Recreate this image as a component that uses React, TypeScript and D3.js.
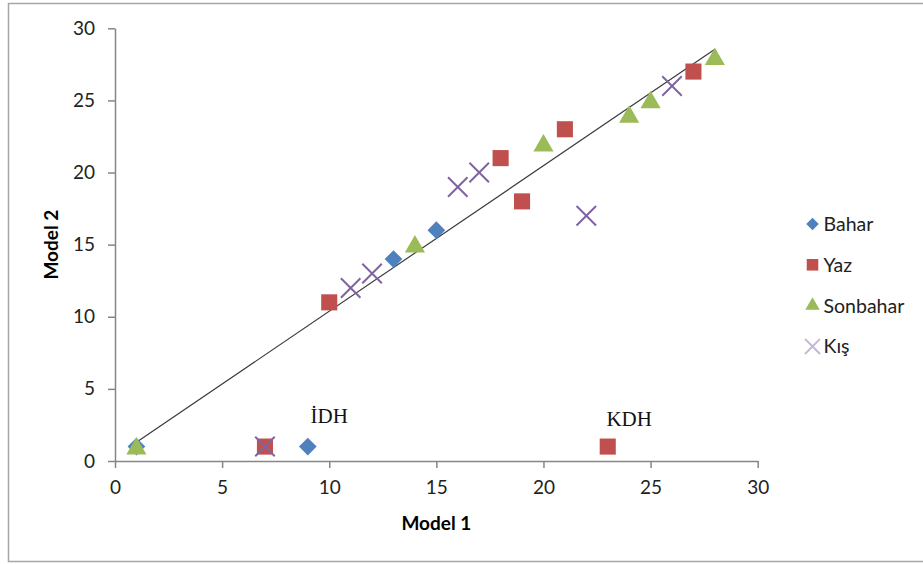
import { useRef, useEffect } from 'react';
import * as d3 from 'd3';

type Pt = [number, number];

// Model 1 / Model 2 pairs per season
const bahar: Pt[] = [[1, 1], [9, 1], [13, 14], [15, 16]];
const yaz: Pt[] = [[7, 1], [10, 11], [18, 21], [19, 18], [21, 23], [23, 1], [27, 27]];
const sonbahar: Pt[] = [[1, 1], [14, 15], [20, 22], [24, 24], [25, 25], [28, 28]];
const kis: Pt[] = [[7, 1], [11, 12], [12, 13], [16, 19], [17, 20], [22, 17], [26, 26]];

// trend line end points
const trend: Pt[] = [[1, 1.3], [28, 28.55]];

const seriesNames = ['Bahar', 'Yaz', 'Sonbahar', 'Kış'];
const ticks = [0, 5, 10, 15, 20, 25, 30];

const notes = [
  { label: 'İDH', x: 10, y: 2.6 },
  { label: 'KDH', x: 24, y: 2.4 },
];

const W = 923;
const H = 564;
const font = 'Lato, "Open Sans", sans-serif';

const Chart = () => {
  const svgRef = useRef<SVGSVGElement>(null);

  useEffect(() => {
    const svg = d3.select(svgRef.current);
    svg.selectAll('*').remove();

    // outer frame
    svg.append('rect')
      .attr('x', 8.5).attr('y', 3.5)
      .attr('width', W + 10).attr('height', 558)
      .attr('fill', 'white')
      .attr('stroke', '#a6a6a6')
      .attr('stroke-width', 1.5);

    const x = d3.scaleLinear().domain([0, 30]).range([115, 757.7]);
    const y = d3.scaleLinear().domain([0, 30]).range([461, 28.3]);

    const axisColor = '#868686';

    const yAxis = svg.append('g')
      .attr('transform', `translate(${x(0)},0)`)
      .call(d3.axisLeft(y).tickValues(ticks).tickSize(7).tickPadding(13).tickSizeOuter(0));
    const xAxis = svg.append('g')
      .attr('transform', `translate(0,${y(0)})`)
      .call(d3.axisBottom(x).tickValues(ticks).tickSize(7).tickPadding(13).tickSizeOuter(0));

    [xAxis, yAxis].forEach((a) => {
      a.select('.domain').attr('stroke', axisColor).attr('stroke-width', 1.5);
      a.selectAll('.tick line').attr('stroke', axisColor).attr('stroke-width', 1.5);
      a.selectAll('.tick text')
        .attr('font-family', font)
        .attr('font-size', 19)
        .attr('fill', '#222');
    });

    // axis titles
    svg.append('text')
      .attr('x', x(15)).attr('y', 530)
      .attr('text-anchor', 'middle')
      .attr('font-family', font)
      .attr('font-weight', 'bold')
      .attr('font-size', 19)
      .text('Model 1');

    svg.append('text')
      .attr('transform', `translate(58,${y(15)}) rotate(-90)`)
      .attr('text-anchor', 'middle')
      .attr('font-family', font)
      .attr('font-weight', 'bold')
      .attr('font-size', 19)
      .text('Model 2');

    // trend line
    svg.append('path')
      .datum(trend)
      .attr('fill', 'none')
      .attr('stroke', '#3a3a3a')
      .attr('stroke-width', 1.2)
      .attr('d', d3.line<Pt>().x((d) => x(d[0])).y((d) => y(d[1])));

    const colors = ['#4f81bd', '#c0504d', '#9bbb59', '#8064a2'];
    const symbols = [d3.symbolDiamond2, d3.symbolSquare2, d3.symbolTriangle2, d3.symbolX];
    const sizes = [200, 330, 290, 250];
    const all = [bahar, yaz, sonbahar, kis];

    all.forEach((pts, i) => {
      const sym = d3.symbol(symbols[i], sizes[i]);
      const g = svg.append('g');
      const marks = g.selectAll('path')
        .data(pts)
        .join('path')
        .attr('transform', (d) => `translate(${x(d[0])},${y(d[1]) + (i === 2 ? 2 : 0)})`)
        .attr('d', sym());
      if (i === 3) {
        marks.attr('fill', 'none').attr('stroke', colors[i]).attr('stroke-width', 2);
      } else {
        marks.attr('fill', colors[i]).attr('stroke', 'none');
      }
    });

    // annotations
    svg.selectAll('text.note')
      .data(notes)
      .join('text')
      .attr('class', 'note')
      .attr('x', (d) => x(d.x))
      .attr('y', (d) => y(d.y))
      .attr('text-anchor', 'middle')
      .attr('font-family', '"Liberation Serif", "DejaVu Serif", serif')
      .attr('font-size', 21)
      .attr('fill', '#111')
      .text((d) => d.label);

    // legend
    const legendSizes = [100, 170, 150, 150];
    const legendColors = ['#4f81bd', '#c0504d', '#9bbb59', '#c5b7da'];
    const leg = svg.append('g').attr('transform', 'translate(812.5,224)');
    seriesNames.forEach((name, i) => {
      const row = leg.append('g').attr('transform', `translate(0,${i * 40.8})`);
      const p = row.append('path').attr('d', d3.symbol(symbols[i], legendSizes[i])());
      if (i === 3) {
        p.attr('fill', 'none').attr('stroke', legendColors[i]).attr('stroke-width', 2);
      } else {
        p.attr('fill', legendColors[i]);
      }
      row.append('text')
        .attr('x', 11)
        .attr('y', 7)
        .attr('font-family', font)
        .attr('font-size', 19.5)
        .attr('fill', '#222')
        .text(name);
    });
  }, []);

  return (
    <svg
      ref={svgRef}
      width={W}
      height={H}
      style={{ position: 'absolute', left: 0, top: 0 }}
    />
  );
};

export default function App() {
  return <Chart />;
}
